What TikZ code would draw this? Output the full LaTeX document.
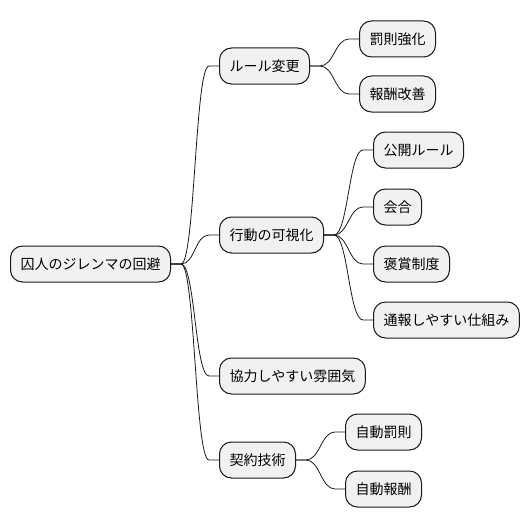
\documentclass[tikz,border=0pt]{standalone}
\usepackage{fontspec}
\setmainfont{Noto Sans CJK JP}
\usetikzlibrary{positioning}
\definecolor{topicgray}{RGB}{241,241,241}
\definecolor{edgegray}{RGB}{24,24,24}

\begin{document}
\begin{tikzpicture}[x=1pt,y=-1pt,
  topic/.style={draw=edgegray,fill=topicgray,rounded corners=12pt,line width=1pt,
    minimum height=36pt,inner xsep=10pt,inner ysep=0pt,anchor=west,
    font=\fontsize{14}{16}\selectfont},
  branch/.style={draw=edgegray,line width=0.8pt}]
\useasboundingbox (0,0) rectangle (530,527);

% root
\node[topic] (root) at (10,264) {囚人のジレンマの回避};

% first level
\node[topic] (rule) at (219,66) {ルール変更};
\node[topic] (vis) at (219,235) {行動の可視化};
\node[topic] (coop) at (219,376) {協力しやすい雰囲気};
\node[topic] (tech) at (219,460) {契約技術};

% second level
\node[topic] (rulea) at (359,39) {罰則強化};
\node[topic] (ruleb) at (359,94) {報酬改善};
\node[topic] (visa) at (373,150) {公開ルール};
\node[topic] (visb) at (373,207) {会合};
\node[topic] (visc) at (373,264) {褒賞制度};
\node[topic] (visd) at (373,320) {通報しやすい仕組み};
\node[topic] (techa) at (345,432) {自動罰則};
\node[topic] (techb) at (345,489) {自動報酬};

% branches
\foreach \a/\b in {root/rule,root/vis,root/coop,root/tech,
    rule/rulea,rule/ruleb,vis/visa,vis/visb,vis/visc,vis/visd,
    tech/techa,tech/techb}{
  \draw[branch] (\a.east) -- ++(10,0) .. controls +(14,0) and +(-14,0) ..
    ([xshift=-10pt]\b.west) -- (\b.west);
}
\end{tikzpicture}
\end{document}
